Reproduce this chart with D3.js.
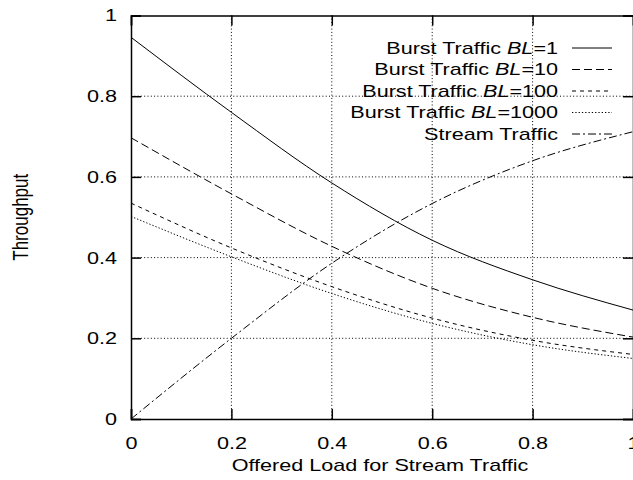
<!DOCTYPE html>
<html lang="en">
<head>
  <meta charset="UTF-8">
  <title>Throughput vs Offered Load</title>
  <script src="https://d3js.org/d3.v7.min.js"></script>
  <style>
    body { margin: 0; background: #fff; }
    svg { display: block; }
    text { font-family: "Liberation Sans", Arial, Helvetica, sans-serif; fill: #000; }
  </style>
</head>
<body>
  <div id="chart"></div>

  <script>
    // Data
    const load = [0, 0.2, 0.4, 0.6, 0.8, 1.0];
    const burst1 = [0.946, 0.760, 0.585, 0.443, 0.345, 0.270];
    const burst10 = [0.697, 0.558, 0.428, 0.324, 0.252, 0.203];
    const burst100 = [0.535, 0.424, 0.328, 0.250, 0.195, 0.160];
    const burst1000 = [0.502, 0.402, 0.311, 0.237, 0.184, 0.150];
    const stream = [0, 0.200, 0.386, 0.534, 0.640, 0.712];

    const xTicks = [0, 0.2, 0.4, 0.6, 0.8, 1];
    const yTicks = [0, 0.2, 0.4, 0.6, 0.8, 1];

    const seriesNames = ["1", "10", "100", "1000", "stream"];
    const seriesValues = [burst1, burst10, burst100, burst1000, stream];
    const dashes = ["none", "8,4", "4,4", "1.3,2", "8,3,2,3"];

    const width = 633, height = 480;
    const margin = { top: 15.5, right: 0, bottom: 61, left: 131 };
    // the original figure's text is stretched sideways
    const sx = 1.27;
    const fontSize = "17px";

    const svg = d3.select("#chart")
      .append("svg")
      .attr("width", width)
      .attr("height", height);

    const x = d3.scaleLinear().domain([0, 1]).range([margin.left, width - margin.right]);
    const y = d3.scaleLinear().domain([0, 1]).range([height - margin.bottom, margin.top]);

    // grid
    const grid = svg.append("g")
      .attr("stroke", "#000")
      .attr("stroke-width", 1)
      .attr("stroke-dasharray", "1,2.3");
    xTicks.slice(1, -1).forEach(t => {
      grid.append("line")
        .attr("x1", x(t)).attr("x2", x(t))
        .attr("y1", y(0)).attr("y2", y(1));
    });
    yTicks.slice(1, -1).forEach(t => {
      grid.append("line")
        .attr("x1", x(0)).attr("x2", x(1))
        .attr("y1", y(t)).attr("y2", y(t));
    });

    // axes (ticks inward, mirrored)
    const tickLen = 10;
    svg.append("g")
      .attr("transform", `translate(0,${y(0)})`)
      .call(d3.axisBottom(x).tickValues(xTicks).tickSize(-tickLen).tickPadding(18)
        .tickFormat(d => d3.format("")(d)))
      .call(g => g.selectAll("text")
        .style("font-size", fontSize)
        .attr("transform", `scale(${sx},1)`));

    svg.append("g")
      .attr("transform", `translate(${x(0)},0)`)
      .call(d3.axisLeft(y).tickValues(yTicks).tickSize(-tickLen).tickPadding(11)
        .tickFormat(d => d3.format("")(d)))
      .call(g => g.selectAll("text")
        .style("font-size", fontSize)
        .attr("transform", `scale(${sx},1)`));

    svg.append("g")
      .attr("transform", `translate(0,${y(1)})`)
      .call(d3.axisTop(x).tickValues(xTicks).tickSize(-tickLen).tickFormat(""));

    svg.append("g")
      .attr("transform", `translate(${x(1)},0)`)
      .call(d3.axisRight(y).tickValues(yTicks).tickSize(-tickLen).tickFormat(""));

    svg.selectAll(".domain").attr("stroke-width", 1.5);
    svg.selectAll(".tick line").attr("stroke-width", 1.5);

    // curves
    const line = d3.line()
      .x((d, i) => x(load[i]))
      .y(d => y(d))
      .curve(d3.curveMonotoneX);

    seriesValues.forEach((vals, k) => {
      svg.append("path")
        .datum(vals)
        .attr("fill", "none")
        .attr("stroke", "#000")
        .attr("stroke-width", 1)
        .attr("stroke-dasharray", dashes[k])
        .attr("d", line);
    });

    // legend
    const legend = svg.append("g");
    seriesNames.forEach((name, k) => {
      const ly = 48 + k * 21.5;
      const t = legend.append("text")
        .attr("transform", `translate(558,${ly}) scale(${sx},1)`)
        .attr("dy", "0.35em")
        .attr("text-anchor", "end")
        .style("font-size", fontSize);
      if (name === "stream") {
        t.text("Stream Traffic");
      } else {
        t.append("tspan").text("Burst Traffic ");
        t.append("tspan").style("font-style", "italic").text("BL");
        t.append("tspan").text("=" + name);
      }
      legend.append("line")
        .attr("x1", 572).attr("x2", 612)
        .attr("y1", ly).attr("y2", ly)
        .attr("stroke", "#000")
        .attr("stroke-width", 1)
        .attr("stroke-dasharray", dashes[k]);
    });

    // axis titles
    svg.append("text")
      .attr("transform", `translate(380,471) scale(${sx},1)`)
      .attr("text-anchor", "middle")
      .style("font-size", fontSize)
      .text("Offered Load for Stream Traffic");

    svg.append("text")
      .attr("transform", `translate(28,${(y(0) + y(1)) / 2}) scale(${sx},1) rotate(-90)`)
      .attr("text-anchor", "middle")
      .style("font-size", fontSize)
      .text("Throughput");
  </script>
</body>
</html>
